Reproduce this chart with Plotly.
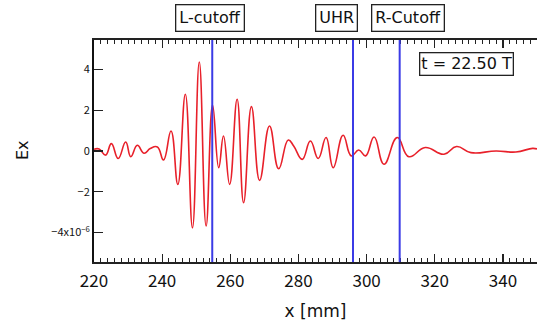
import plotly.graph_objects as go

# Ex waveform (units of 1e-6)
x_mm = [220, 221.5, 223.4, 225.1, 227.1, 229.3, 230.8, 232.7, 234.7, 236.5, 238.6, 240.4,
        242.6, 244.6, 246.8, 248.9, 250.9, 252.9, 254.8, 256.6, 258.0, 259.8, 262.0, 263.9,
        266.2, 268.6, 271.5, 274.2, 277.0, 278.6, 281.1, 283.5, 285.8, 288.1, 290.2, 293.1,
        295.5, 297.7, 299.7, 302.2, 305.1, 309.0, 312.4, 317.2, 322.7, 326.4, 330.6, 338.0,
        343.8, 348.7, 350.0]
ex_val = [0.08, 0.10, -0.20, 0.36, -0.37, 0.44, -0.28, 0.28, -0.11, 0.12, 0.20, -0.44,
          0.98, -1.64, 2.79, -3.77, 4.37, -3.68, 2.25, -0.82, 0.74, -1.64, 2.54, -2.54,
          2.18, -1.44, 1.23, -0.87, 0.54, 0.25, -0.41, 0.49, -0.37, 0.66, -0.82, 0.77,
          -0.24, 0.05, -0.24, 0.69, -0.65, 0.66, -0.28, 0.17, -0.16, 0.22, -0.08, 0.00,
          -0.05, 0.13, 0.10]

# Marker lines (x positions in mm) and their labels
cut_names = ["L-cutoff", "UHR", "R-Cutoff"]
cut_x = [254.7, 296.0, 309.7]
label_x = [254.0, 291.2, 312.0]

y_tickvals = [4, 2, 0, -2, -4]
y_ticktext = ["4", "2", "0", "\u22122", "\u22124x10<sup>\u22126</sup>"]
x_tickvals = [220, 240, 260, 280, 300, 320, 340]
x_midticks = [230, 250, 270, 290, 310, 330, 350]
time_label = "t = 22.50 T"
y_title = "Ex"

FONT = "Noto Sans CJK JP"
FONT2 = "DejaVu Sans"
XR = [220, 350]
YR = [-5.45, 5.45]

fig = go.Figure()
fig.add_trace(go.Scatter(x=x_mm, y=ex_val, mode="lines",
                         line=dict(color="#e8202a", width=1.6, shape="spline", smoothing=1.3),
                         showlegend=False, hoverinfo="skip"))

for cx in cut_x:
    fig.add_shape(type="line", xref="x", yref="paper", x0=cx, x1=cx, y0=0, y1=1,
                  line=dict(color="#3b3be6", width=2), layer="above")

for name, lx in zip(cut_names, label_x):
    fig.add_annotation(x=lx, xref="x", y=1.097, yref="paper", text=name, showarrow=False,
                       font=dict(family=FONT2, size=16, color="#111"),
                       bordercolor="#222", borderwidth=1.3, borderpad=3, bgcolor="white",
                       yanchor="middle", xanchor="center")

fig.add_annotation(x=329.4, xref="x", y=0.89, yref="paper", text=time_label, showarrow=False,
                   font=dict(family=FONT2, size=16, color="#111"),
                   bordercolor="#222", borderwidth=1.3, borderpad=1, bgcolor="white",
                   yanchor="middle", xanchor="center")

# y-axis title placed as a rotated annotation
fig.add_annotation(x=-0.160, xref="paper", y=0.505, yref="paper", text=y_title,
                   showarrow=False, textangle=-90,
                   font=dict(family=FONT2, size=16, color="#111"),
                   xanchor="center", yanchor="middle")

fig.update_layout(
    width=537, height=325,
    margin=dict(l=94, r=0, t=40, b=63),
    paper_bgcolor="white", plot_bgcolor="white",
    font=dict(family=FONT, color="#111"),
    xaxis=dict(range=XR, showgrid=False, zeroline=False, automargin=False,
               showline=True, linecolor="#222", linewidth=2, mirror="ticks",
               ticks="inside", ticklen=8, tickwidth=1.2, tickcolor="#222",
               tickvals=x_tickvals, tickfont=dict(size=17, family=FONT), ticklabelstandoff=3,
               minor=dict(dtick=2, ticks="inside", ticklen=4, tickwidth=1, tickcolor="#222"),
               title=dict(text="x [mm]", font=dict(size=17, family=FONT2), standoff=14)),
    xaxis2=dict(range=XR, overlaying="x", anchor="y", showgrid=False, zeroline=False,
                showline=False, mirror="ticks", ticks="inside", ticklen=6, tickwidth=1.2,
                tickcolor="#222", tickvals=x_midticks, showticklabels=False, automargin=False),
    yaxis=dict(range=YR, showgrid=False, zeroline=False, automargin=False,
               showline=True, linecolor="#111", linewidth=2,
               ticks="inside", ticklen=9, tickwidth=1.2, tickcolor="#222",
               tickvals=y_tickvals, ticktext=y_ticktext, tickfont=dict(size=11, family=FONT)),
    yaxis2=dict(range=YR, overlaying="y", side="right", anchor="x", showgrid=False,
                zeroline=False, showline=False, ticks="inside", ticklen=9, tickwidth=1.2,
                tickcolor="#222", tickvals=y_tickvals, showticklabels=False, automargin=False),
)

fig.write_html("out.html", config={"displayModeBar": False, "staticPlot": True},
               post_script="document.body.style.margin='0';document.body.style.overflow='hidden';")
